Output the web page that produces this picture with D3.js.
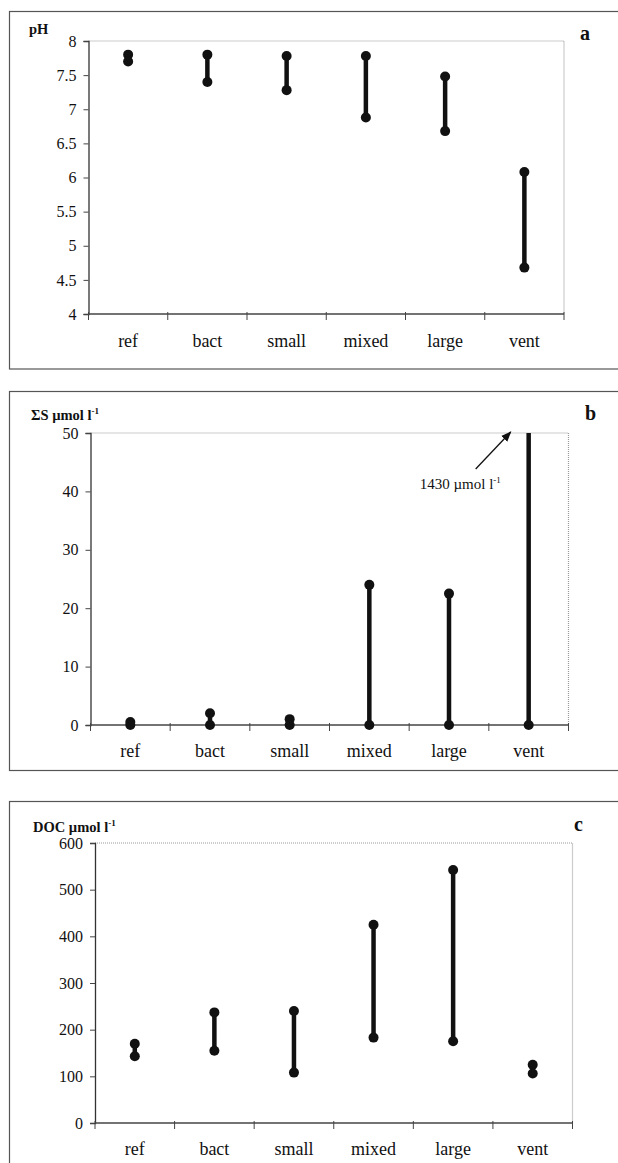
<!DOCTYPE html>
<html>
<head>
<meta charset="utf-8">
<script src="https://cdn.jsdelivr.net/npm/d3@7"></script>
<style>
  body { margin: 0; background: #fff; }
  text { font-family: "Liberation Serif", "Times New Roman", serif; fill: #111; }
</style>
</head>
<body>
<div id="main"></div>
<script>
// ---------------- data -----------------//

let categories = ['ref', 'bact', 'small', 'mixed', 'large', 'vent'];

// pH (panel a)
let phHigh = [7.8, 7.8, 7.78, 7.78, 7.48, 6.08];
let phLow  = [7.7, 7.4, 7.28, 6.88, 6.68, 4.68];
let phTicks = [4, 4.5, 5, 5.5, 6, 6.5, 7, 7.5, 8];

// sum of sulfide, umol/l (panel b)
let sulfHigh = [0.5, 2, 1, 24, 22.5, 1430];
let sulfLow  = [0, 0, 0, 0, 0, 0];
let sulfTicks = [0, 10, 20, 30, 40, 50];

// DOC, umol/l (panel c)
let docHigh = [170, 237, 240, 425, 542, 125];
let docLow  = [143, 155, 108, 183, 175, 106];
let docTicks = [0, 100, 200, 300, 400, 500, 600];

// ---------------- canvas -----------------//

let width = 618;
let height = 1163;

let svg = d3.select("#main")
  .append("svg")
  .attr("width", width)
  .attr("height", height);

let defs = svg.append("defs");

let panels = [
  {letter: 'a', label: 'pH', sup: null, high: phHigh, low: phLow, ticks: phTicks,
   frame: [9.5, 11.5, 620, 357.5], plot: [88.5, 41, 564, 314], catY: 347,
   labelX: 29, labelY: 34, letterX: 580, letterY: 40},
  {letter: 'b', label: 'ΣS µmol l', sup: '-1', high: sulfHigh, low: sulfLow, ticks: sulfTicks,
   frame: [9.5, 391.5, 620, 379], plot: [90.5, 433, 568.5, 725], catY: 757,
   labelX: 31, labelY: 420, letterX: 585, letterY: 420},
  {letter: 'c', label: 'DOC µmol l', sup: '-1', high: docHigh, low: docLow, ticks: docTicks,
   frame: [9.5, 801.5, 620, 400], plot: [95, 843, 572.5, 1123], catY: 1155,
   labelX: 33, labelY: 832, letterX: 574, letterY: 831}
];

panels.forEach(function(p) {
  drawPanel(p);
});

function drawPanel(p) {
  let g = svg.append("g");
  let [x0, y0, x1, y1] = p.plot;

  // outer frame
  g.append("rect")
    .attr("x", p.frame[0])
    .attr("y", p.frame[1])
    .attr("width", p.frame[2])
    .attr("height", p.frame[3])
    .attr("fill", "none")
    .attr("stroke", "#555")
    .attr("stroke-width", 1.2);

  let xScale = d3.scaleBand()
    .domain(categories)
    .range([x0, x1]);

  let yScale = d3.scaleLinear()
    .domain(d3.extent(p.ticks))
    .range([y1, y0]);

  // dotted plot-area border (top, right)
  g.append("path")
    .attr("d", `M${x0},${y0}H${x1}V${y1}`)
    .attr("fill", "none")
    .attr("stroke", "#999")
    .attr("stroke-width", 1.2)
    .attr("stroke-dasharray", "1,1");

  // y axis
  let yAxis = d3.axisLeft(yScale)
    .tickValues(p.ticks)
    .tickSize(5)
    .tickPadding(7)
    .tickFormat(d => d3.format("")(d));

  let ya = g.append("g")
    .attr("transform", `translate(${x0},0)`)
    .call(yAxis)
    .attr("font-family", null)
    .attr("font-size", null);
  ya.select(".domain").attr("stroke", "#333").attr("stroke-width", 1.3);
  ya.selectAll(".tick line").attr("stroke", "#444");
  ya.selectAll(".tick text")
    .attr("font-size", 16)
    .style("fill", "#111");

  // x axis: ticks at band boundaries
  let xa = g.append("g")
    .attr("transform", `translate(0,${y1})`);
  xa.append("line")
    .attr("x1", x0).attr("x2", x1)
    .attr("stroke", "#444")
    .attr("stroke-width", 1.6);
  let bounds = categories.map(c => xScale(c)).concat([x1]);
  xa.selectAll(".xtick")
    .data(bounds)
    .join("line")
    .attr("class", "xtick")
    .attr("x1", d => d).attr("x2", d => d)
    .attr("y1", -2).attr("y2", 6)
    .attr("stroke", "#444");

  g.selectAll(".cat")
    .data(categories)
    .join("text")
    .attr("class", "cat")
    .attr("x", d => xScale(d) + xScale.bandwidth() / 2)
    .attr("y", p.catY)
    .attr("text-anchor", "middle")
    .attr("font-size", 18)
    .text(d => d);

  // range lines + end points
  let top = yScale.domain()[1];
  let rows = categories.map(function(c, i) {
    return {cat: c, high: Math.min(p.high[i], top), low: p.low[i], clipped: p.high[i] > top};
  });

  g.selectAll(".range")
    .data(rows)
    .join("line")
    .attr("class", "range")
    .attr("x1", d => xScale(d.cat) + xScale.bandwidth() / 2)
    .attr("x2", d => xScale(d.cat) + xScale.bandwidth() / 2)
    .attr("y1", d => yScale(d.high))
    .attr("y2", d => yScale(d.low))
    .attr("stroke", "#111")
    .attr("stroke-width", 4.5);

  let pts = [];
  rows.forEach(function(d) {
    if (!d.clipped) pts.push({cat: d.cat, v: d.high});
    pts.push({cat: d.cat, v: d.low});
  });

  g.selectAll(".pt")
    .data(pts)
    .join("circle")
    .attr("class", "pt")
    .attr("cx", d => xScale(d.cat) + xScale.bandwidth() / 2)
    .attr("cy", d => yScale(d.v))
    .attr("r", 5)
    .attr("fill", "#111");

  // axis title
  let t = g.append("text")
    .attr("x", p.labelX)
    .attr("y", p.labelY)
    .attr("font-size", 14.5)
    .attr("font-weight", "bold")
    .text(p.label);
  if (p.sup) {
    t.append("tspan")
      .attr("dy", -6)
      .attr("font-size", 9)
      .text(p.sup);
  }

  // panel letter
  g.append("text")
    .attr("x", p.letterX)
    .attr("y", p.letterY)
    .attr("font-size", 20)
    .attr("font-weight", "bold")
    .text(p.letter);

  // off-scale annotation
  rows.filter(d => d.clipped).forEach(function(d) {
    let cx = xScale(d.cat) + xScale.bandwidth() / 2;
    let tipX = cx - 18, tipY = yScale(top) - 1;
    let id = "arrow" + p.letter;
    defs.append("marker")
      .attr("id", id)
      .attr("viewBox", "0 0 10 10")
      .attr("refX", 9).attr("refY", 5)
      .attr("markerWidth", 8).attr("markerHeight", 8)
      .attr("orient", "auto")
      .append("path")
      .attr("d", "M0,1L10,5L0,9Z")
      .attr("fill", "#111");
    g.append("line")
      .attr("x1", tipX - 35).attr("y1", tipY + 37)
      .attr("x2", tipX).attr("y2", tipY)
      .attr("stroke", "#111")
      .attr("stroke-width", 1.3)
      .attr("marker-end", `url(#${id})`);
    let a = g.append("text")
      .attr("x", tipX - 91)
      .attr("y", tipY + 57)
      .attr("font-size", 15)
      .text(p.high[categories.indexOf(d.cat)] + " µmol l");
    a.append("tspan")
      .attr("dy", -6)
      .attr("font-size", 9)
      .text("-1");
  });
}
</script>
</body>
</html>
